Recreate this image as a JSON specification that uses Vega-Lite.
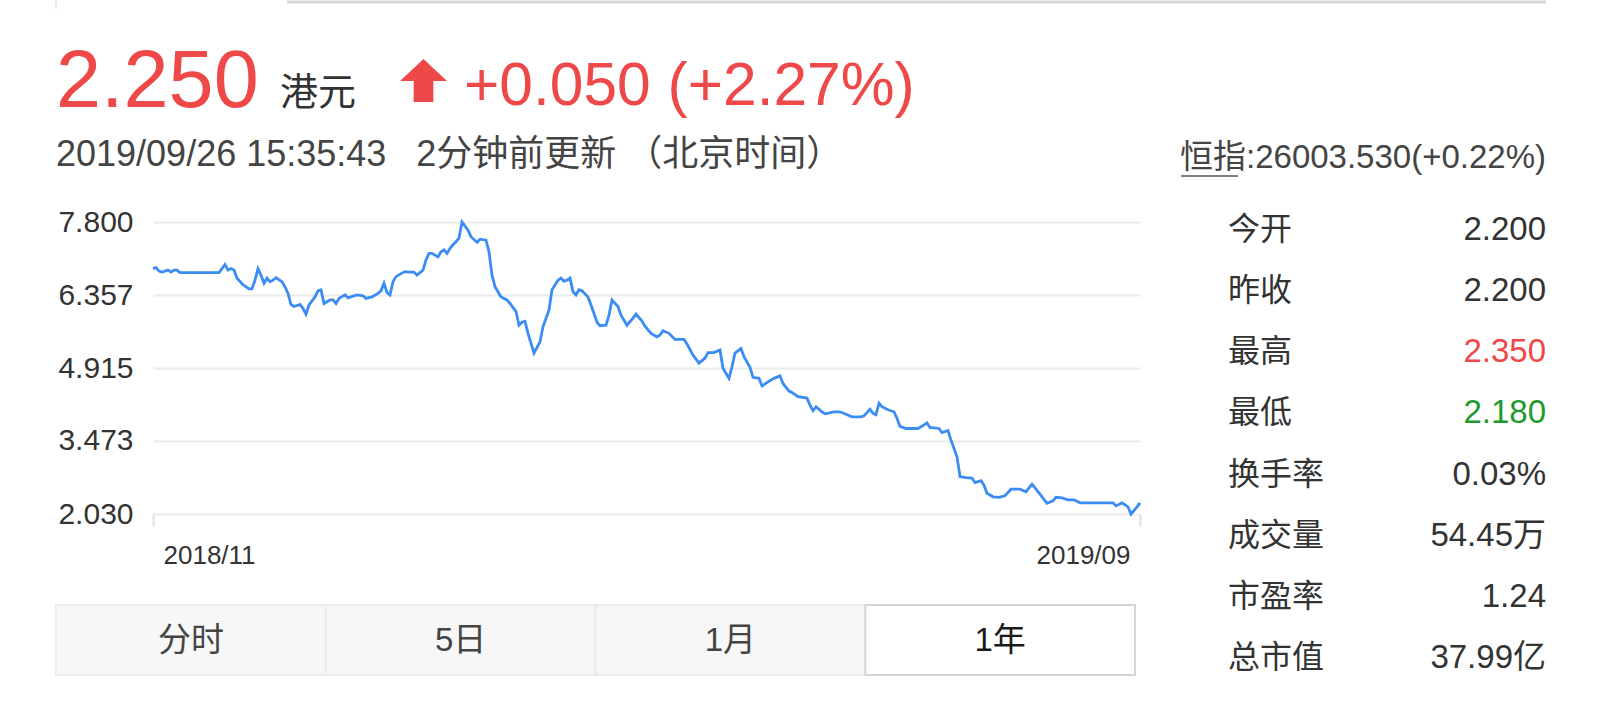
{
  "$schema": "https://vega.github.io/schema/vega-lite/v6.json",
  "width": 987,
  "height": 292,
  "autosize": {"type": "none"},
  "padding": {"left": 153, "top": 222, "right": 460, "bottom": 196},
  "background": "#ffffff",
  "config": {
    "font": "Liberation Sans, Noto Sans CJK SC",
    "view": {"stroke": null}
  },
  "resolve": {"scale": {"x": "independent", "y": "independent", "color": "independent"}},
  "layer": [
    {
      "data": {"values": [{}]},
      "mark": {"type": "rule", "color": "#d6d6d6", "strokeWidth": 3},
      "encoding": {"x": {"value": 134}, "x2": {"value": 1393}, "y": {"value": -220}}
    },
    {
      "data": {"values": [{}]},
      "mark": {"type": "rule", "color": "#e2e2e2", "strokeWidth": 1.5},
      "encoding": {"x": {"value": -97}, "y": {"value": -222}, "y2": {"value": -213}}
    },
    {
      "data": {"values": [{"t": "2.250"}]},
      "mark": {"type": "text", "align": "left", "baseline": "alphabetic", "fontSize": 81, "color": "#ef4848"},
      "encoding": {"x": {"value": -97}, "y": {"value": -115}, "text": {"field": "t"}}
    },
    {
      "data": {"values": [{"t": "港元"}]},
      "mark": {"type": "text", "align": "left", "baseline": "alphabetic", "fontSize": 38, "color": "#333333"},
      "encoding": {"x": {"value": 127}, "y": {"value": -117}, "text": {"field": "t"}}
    },
    {
      "data": {"values": [{"dir": "up"}]},
      "mark": {"type": "point", "shape": "M0,-0.92 L1,0.02 L0.42,0.02 L0.42,0.92 L-0.42,0.92 L-0.42,0.02 L-1,0.02 Z", "filled": true, "color": "#ef4848", "opacity": 1, "size": 2200, "strokeWidth": 0},
      "encoding": {"x": {"value": 270.5}, "y": {"value": -141.5}}
    },
    {
      "data": {"values": [{"t": "+0.050 (+2.27%)"}]},
      "mark": {"type": "text", "align": "left", "baseline": "alphabetic", "fontSize": 60.5, "color": "#ef4848"},
      "encoding": {"x": {"value": 311}, "y": {"value": -117}, "text": {"field": "t"}}
    },
    {
      "data": {"values": [{"t": "2019/09/26 15:35:43 \u00a0\u00a02分钟前更新 （北京时间）"}]},
      "mark": {"type": "text", "align": "left", "baseline": "alphabetic", "fontSize": 36, "color": "#444444"},
      "encoding": {"x": {"value": -97}, "y": {"value": -56}, "text": {"field": "t"}}
    },
    {
      "data": {"values": [{"t": "恒指:26003.530(+0.22%)"}]},
      "mark": {"type": "text", "align": "right", "baseline": "alphabetic", "fontSize": 33, "color": "#444444"},
      "encoding": {"x": {"value": 1393}, "y": {"value": -54}, "text": {"field": "t"}}
    },
    {
      "data": {"values": [{}]},
      "mark": {"type": "rule", "color": "#555555", "strokeWidth": 1.5},
      "encoding": {"x": {"value": 1028}, "x2": {"value": 1085}, "y": {"value": -46}}
    },
    {
      "data": {
        "values": [
          {"label": "今开", "value": "2.200"},
          {"label": "昨收", "value": "2.200"},
          {"label": "最高", "value": "2.350"},
          {"label": "最低", "value": "2.180"},
          {"label": "换手率", "value": "0.03%"},
          {"label": "成交量", "value": "54.45万"},
          {"label": "市盈率", "value": "1.24"},
          {"label": "总市值", "value": "37.99亿"}
        ]
      },
      "encoding": {
        "y": {"field": "label", "type": "nominal", "sort": null, "scale": {"type": "point", "range": [8, 436], "padding": 0}, "axis": null}
      },
      "layer": [
        {
          "mark": {"type": "text", "align": "left", "baseline": "middle", "fontSize": 32, "color": "#333333"},
          "encoding": {"x": {"value": 1075}, "text": {"field": "label"}}
        },
        {
          "mark": {"type": "text", "align": "right", "baseline": "middle", "fontSize": 33},
          "encoding": {
            "x": {"value": 1393},
            "text": {"field": "value"},
            "color": {
              "condition": [
                {"test": "datum.label === '最高'", "value": "#f04848"},
                {"test": "datum.label === '最低'", "value": "#1c9a2a"}
              ],
              "value": "#333333"
            }
          }
        }
      ]
    },
    {
      "data": {"values": [{"tab": "分时"}, {"tab": "5日"}, {"tab": "1月"}, {"tab": "1年"}]},
      "encoding": {
        "x": {"field": "tab", "type": "nominal", "sort": null, "scale": {"type": "band", "range": [-97, 982], "paddingInner": 0, "paddingOuter": 0}, "axis": null}
      },
      "layer": [
        {
          "mark": {"type": "rect", "strokeWidth": 2},
          "encoding": {
            "y": {"value": 383},
            "y2": {"value": 453},
            "fill": {"condition": {"test": "datum.tab === '1年'", "value": "#ffffff"}, "value": "#f7f7f7"},
            "stroke": {"condition": {"test": "datum.tab === '1年'", "value": "#d6d6d6"}, "value": "#ececec"}
          }
        },
        {
          "mark": {"type": "text", "align": "center", "baseline": "middle", "fontSize": 33},
          "encoding": {
            "y": {"value": 419},
            "text": {"field": "tab"},
            "color": {"condition": {"test": "datum.tab === '1年'", "value": "#1a1a1a"}, "value": "#444444"}
          }
        }
      ]
    },
    {
      "data": {
        "values": [
          {"date": "2018/11/01", "price": 6.88}, {"date": "2018/11/02", "price": 6.90}, {"date": "2018/11/03", "price": 6.83},
          {"date": "2018/11/04", "price": 6.81}, {"date": "2018/11/06", "price": 6.85}, {"date": "2018/11/07", "price": 6.81},
          {"date": "2018/11/08", "price": 6.85}, {"date": "2018/11/09", "price": 6.85}, {"date": "2018/11/10", "price": 6.80},
          {"date": "2018/11/23", "price": 6.80}, {"date": "2018/11/24", "price": 6.88}, {"date": "2018/11/25", "price": 6.96},
          {"date": "2018/11/26", "price": 6.85}, {"date": "2018/11/27", "price": 6.88}, {"date": "2018/11/28", "price": 6.85},
          {"date": "2018/11/29", "price": 6.69}, {"date": "2018/12/01", "price": 6.56}, {"date": "2018/12/03", "price": 6.48},
          {"date": "2018/12/04", "price": 6.48}, {"date": "2018/12/05", "price": 6.65}, {"date": "2018/12/06", "price": 6.88},
          {"date": "2018/12/07", "price": 6.75}, {"date": "2018/12/08", "price": 6.59}, {"date": "2018/12/09", "price": 6.69},
          {"date": "2018/12/10", "price": 6.62}, {"date": "2018/12/11", "price": 6.65}, {"date": "2018/12/12", "price": 6.70},
          {"date": "2018/12/14", "price": 6.62}, {"date": "2018/12/15", "price": 6.52}, {"date": "2018/12/16", "price": 6.39},
          {"date": "2018/12/17", "price": 6.17}, {"date": "2018/12/18", "price": 6.13}, {"date": "2018/12/20", "price": 6.17},
          {"date": "2018/12/21", "price": 6.09}, {"date": "2018/12/22", "price": 5.98}, {"date": "2018/12/23", "price": 6.16},
          {"date": "2018/12/25", "price": 6.32}, {"date": "2018/12/26", "price": 6.44}, {"date": "2018/12/27", "price": 6.46},
          {"date": "2018/12/28", "price": 6.19}, {"date": "2018/12/30", "price": 6.26}, {"date": "2018/12/31", "price": 6.26},
          {"date": "2019/01/01", "price": 6.19}, {"date": "2019/01/02", "price": 6.29}, {"date": "2019/01/04", "price": 6.36},
          {"date": "2019/01/05", "price": 6.30}, {"date": "2019/01/06", "price": 6.32}, {"date": "2019/01/08", "price": 6.36},
          {"date": "2019/01/10", "price": 6.34}, {"date": "2019/01/11", "price": 6.29}, {"date": "2019/01/13", "price": 6.32},
          {"date": "2019/01/15", "price": 6.39}, {"date": "2019/01/16", "price": 6.44}, {"date": "2019/01/17", "price": 6.59},
          {"date": "2019/01/18", "price": 6.41}, {"date": "2019/01/19", "price": 6.36}, {"date": "2019/01/20", "price": 6.62},
          {"date": "2019/01/21", "price": 6.72}, {"date": "2019/01/23", "price": 6.79}, {"date": "2019/01/24", "price": 6.82},
          {"date": "2019/01/25", "price": 6.81}, {"date": "2019/01/27", "price": 6.81}, {"date": "2019/01/28", "price": 6.75},
          {"date": "2019/01/30", "price": 6.85}, {"date": "2019/01/31", "price": 7.05}, {"date": "2019/02/01", "price": 7.18},
          {"date": "2019/02/02", "price": 7.18}, {"date": "2019/02/04", "price": 7.11}, {"date": "2019/02/05", "price": 7.21},
          {"date": "2019/02/06", "price": 7.25}, {"date": "2019/02/07", "price": 7.18}, {"date": "2019/02/08", "price": 7.28},
          {"date": "2019/02/09", "price": 7.35}, {"date": "2019/02/10", "price": 7.41}, {"date": "2019/02/11", "price": 7.48},
          {"date": "2019/02/12", "price": 7.80}, {"date": "2019/02/14", "price": 7.64}, {"date": "2019/02/15", "price": 7.51},
          {"date": "2019/02/17", "price": 7.40}, {"date": "2019/02/18", "price": 7.46}, {"date": "2019/02/20", "price": 7.44},
          {"date": "2019/02/21", "price": 7.21}, {"date": "2019/02/22", "price": 6.75}, {"date": "2019/02/23", "price": 6.52},
          {"date": "2019/02/25", "price": 6.32}, {"date": "2019/02/27", "price": 6.26}, {"date": "2019/02/28", "price": 6.19},
          {"date": "2019/03/02", "price": 6.03}, {"date": "2019/03/03", "price": 5.76}, {"date": "2019/03/04", "price": 5.82},
          {"date": "2019/03/05", "price": 5.84}, {"date": "2019/03/06", "price": 5.60}, {"date": "2019/03/08", "price": 5.21},
          {"date": "2019/03/10", "price": 5.43}, {"date": "2019/03/11", "price": 5.73}, {"date": "2019/03/13", "price": 6.06},
          {"date": "2019/03/14", "price": 6.46}, {"date": "2019/03/16", "price": 6.65}, {"date": "2019/03/17", "price": 6.69},
          {"date": "2019/03/18", "price": 6.63}, {"date": "2019/03/19", "price": 6.65}, {"date": "2019/03/20", "price": 6.69},
          {"date": "2019/03/21", "price": 6.42}, {"date": "2019/03/22", "price": 6.36}, {"date": "2019/03/23", "price": 6.46},
          {"date": "2019/03/24", "price": 6.44}, {"date": "2019/03/26", "price": 6.32}, {"date": "2019/03/27", "price": 6.16},
          {"date": "2019/03/29", "price": 5.82}, {"date": "2019/03/30", "price": 5.75}, {"date": "2019/04/01", "price": 5.76},
          {"date": "2019/04/02", "price": 5.96}, {"date": "2019/04/03", "price": 6.26}, {"date": "2019/04/05", "price": 6.13},
          {"date": "2019/04/06", "price": 5.96}, {"date": "2019/04/08", "price": 5.76}, {"date": "2019/04/10", "price": 5.90},
          {"date": "2019/04/11", "price": 5.98}, {"date": "2019/04/13", "price": 5.84}, {"date": "2019/04/14", "price": 5.74},
          {"date": "2019/04/16", "price": 5.60}, {"date": "2019/04/18", "price": 5.53}, {"date": "2019/04/19", "price": 5.57},
          {"date": "2019/04/20", "price": 5.65}, {"date": "2019/04/22", "price": 5.60}, {"date": "2019/04/24", "price": 5.48},
          {"date": "2019/04/27", "price": 5.48}, {"date": "2019/04/28", "price": 5.39}, {"date": "2019/04/30", "price": 5.17},
          {"date": "2019/05/02", "price": 5.01}, {"date": "2019/05/04", "price": 5.11}, {"date": "2019/05/05", "price": 5.22},
          {"date": "2019/05/07", "price": 5.22}, {"date": "2019/05/09", "price": 5.27}, {"date": "2019/05/10", "price": 4.91},
          {"date": "2019/05/12", "price": 4.71}, {"date": "2019/05/13", "price": 4.94}, {"date": "2019/05/14", "price": 5.21},
          {"date": "2019/05/16", "price": 5.30}, {"date": "2019/05/17", "price": 5.14}, {"date": "2019/05/19", "price": 4.93},
          {"date": "2019/05/20", "price": 4.73}, {"date": "2019/05/22", "price": 4.71}, {"date": "2019/05/23", "price": 4.56},
          {"date": "2019/05/25", "price": 4.64}, {"date": "2019/05/27", "price": 4.71}, {"date": "2019/05/29", "price": 4.76},
          {"date": "2019/05/30", "price": 4.61}, {"date": "2019/06/01", "price": 4.46}, {"date": "2019/06/02", "price": 4.43},
          {"date": "2019/06/04", "price": 4.35}, {"date": "2019/06/07", "price": 4.32}, {"date": "2019/06/08", "price": 4.18},
          {"date": "2019/06/09", "price": 4.07}, {"date": "2019/06/10", "price": 4.15}, {"date": "2019/06/12", "price": 4.05},
          {"date": "2019/06/13", "price": 4.01}, {"date": "2019/06/16", "price": 4.05}, {"date": "2019/06/18", "price": 4.05},
          {"date": "2019/06/20", "price": 4.00}, {"date": "2019/06/22", "price": 3.95}, {"date": "2019/06/25", "price": 3.95},
          {"date": "2019/06/26", "price": 3.97}, {"date": "2019/06/28", "price": 4.10}, {"date": "2019/06/29", "price": 4.02},
          {"date": "2019/06/30", "price": 3.99}, {"date": "2019/07/01", "price": 4.22}, {"date": "2019/07/02", "price": 4.15},
          {"date": "2019/07/04", "price": 4.09}, {"date": "2019/07/06", "price": 4.05}, {"date": "2019/07/07", "price": 3.92},
          {"date": "2019/07/08", "price": 3.76}, {"date": "2019/07/10", "price": 3.72}, {"date": "2019/07/14", "price": 3.72},
          {"date": "2019/07/16", "price": 3.79}, {"date": "2019/07/17", "price": 3.83}, {"date": "2019/07/18", "price": 3.74},
          {"date": "2019/07/21", "price": 3.72}, {"date": "2019/07/22", "price": 3.64}, {"date": "2019/07/24", "price": 3.68},
          {"date": "2019/07/25", "price": 3.49}, {"date": "2019/07/27", "price": 3.16}, {"date": "2019/07/28", "price": 2.77},
          {"date": "2019/07/30", "price": 2.75}, {"date": "2019/08/01", "price": 2.74}, {"date": "2019/08/02", "price": 2.65},
          {"date": "2019/08/04", "price": 2.69}, {"date": "2019/08/05", "price": 2.60}, {"date": "2019/08/06", "price": 2.44},
          {"date": "2019/08/08", "price": 2.37}, {"date": "2019/08/10", "price": 2.36}, {"date": "2019/08/12", "price": 2.39},
          {"date": "2019/08/14", "price": 2.52}, {"date": "2019/08/16", "price": 2.52}, {"date": "2019/08/17", "price": 2.52},
          {"date": "2019/08/19", "price": 2.47}, {"date": "2019/08/21", "price": 2.62}, {"date": "2019/08/23", "price": 2.47},
          {"date": "2019/08/26", "price": 2.24}, {"date": "2019/08/28", "price": 2.29}, {"date": "2019/08/29", "price": 2.36},
          {"date": "2019/08/31", "price": 2.35}, {"date": "2019/09/02", "price": 2.31}, {"date": "2019/09/04", "price": 2.31},
          {"date": "2019/09/06", "price": 2.25}, {"date": "2019/09/12", "price": 2.25}, {"date": "2019/09/17", "price": 2.25},
          {"date": "2019/09/18", "price": 2.19}, {"date": "2019/09/20", "price": 2.25}, {"date": "2019/09/22", "price": 2.17},
          {"date": "2019/09/23", "price": 2.03}, {"date": "2019/09/25", "price": 2.17}, {"date": "2019/09/26", "price": 2.25}
        ]
      },
      "mark": {"type": "line", "color": "#3b8cf5", "strokeWidth": 2.8},
      "encoding": {
        "x": {
          "field": "date",
          "type": "temporal",
          "scale": {"domain": [{"year": 2018, "month": 11, "date": 1}, {"year": 2019, "month": 9, "date": 26}]},
          "axis": {
            "values": [{"year": 2018, "month": 11, "date": 1}, {"year": 2019, "month": 9, "date": 26}],
            "format": "%Y/%m",
            "title": null,
            "domain": false,
            "grid": false,
            "ticks": true,
            "tickSize": 12,
            "tickWidth": 2,
            "tickColor": "#e0e0e0",
            "labelFlush": true,
            "labelFlushOffset": -10,
            "labelPadding": 16,
            "labelFontSize": 26,
            "labelColor": "#333333"
          }
        },
        "y": {
          "field": "price",
          "type": "quantitative",
          "scale": {"domain": [2.03, 7.8], "zero": false, "nice": false},
          "axis": {
            "values": [2.03, 3.473, 4.915, 6.357, 7.8],
            "format": ".3f",
            "title": null,
            "domain": false,
            "ticks": false,
            "tickSize": 0,
            "labelPadding": 20,
            "grid": true,
            "gridColor": "#ebebeb",
            "gridWidth": 2,
            "labelFontSize": 30,
            "labelColor": "#333333"
          }
        }
      }
    }
  ]
}
